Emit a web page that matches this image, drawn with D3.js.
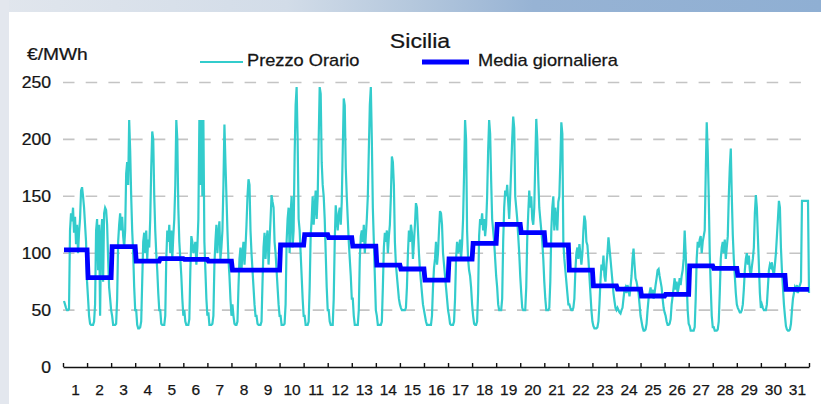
<!DOCTYPE html>
<html><head><meta charset="utf-8">
<script src="https://cdn.jsdelivr.net/npm/d3@7"></script>
<style>body{margin:0;background:#fff;} svg{display:block;}</style>
</head><body>
<svg id="chart" width="821" height="404"></svg>
<script>
// ---- data ----
const dayLabels = d3.range(1, 32).map(String);
const yTicks = [0, 50, 100, 150, 200, 250];
const seriesNames = ["Prezzo Orario", "Media giornaliera"];
const mediaGiornaliera = [103, 78.5, 105.7, 93.1, 95.2, 94.6, 93.1, 85.2, 85.2, 107.2, 116.3, 113.6, 106.3, 89.6, 86.1,
  76.4, 94.9, 108.7, 125.4, 118, 107.2, 85.2, 71.2, 68.5, 62.4, 63.9, 88.8, 86.7, 80.6, 80.6, 68.2];
const prezzoOrario = [
  [58,55,52,50,50,51,120,135,128,140,118,132,108,125,100,118,130,155,158,150,140,125,110,75],
  [60,45,38,37,37,37,40,55,120,130,85,125,45,115,130,75,135,140,138,125,95,70,60,50],
  [45,37,37,37,38,60,110,125,135,120,132,115,105,120,170,180,160,217,190,150,120,100,70,50],
  [50,37,34,34,35,40,75,110,118,100,120,95,112,105,130,175,207,200,150,120,100,85,65,50],
  [50,38,37,37,37,45,95,120,110,125,100,120,95,115,130,160,217,200,140,110,95,80,60,45],
  [50,40,37,37,37,42,85,115,110,100,105,110,90,105,130,217,160,217,150,217,110,85,60,45],
  [48,37,37,37,38,45,90,110,125,100,118,128,95,105,120,160,213,180,150,120,95,80,60,45],
  [55,45,38,37,37,40,70,95,105,85,100,110,90,105,125,150,165,160,120,100,85,70,55,45],
  [45,38,37,37,37,40,75,105,118,95,112,120,90,110,130,151,145,140,110,100,85,70,55,45],
  [45,37,37,37,38,55,110,130,140,100,135,150,105,120,185,230,246,200,130,120,100,80,60,45],
  [45,37,37,37,40,70,115,130,150,125,140,155,130,150,200,246,240,180,160,150,130,100,70,50],
  [50,40,37,37,37,60,110,142,130,120,135,140,125,145,190,236,230,175,150,130,110,95,80,60],
  [60,45,37,37,37,37,50,95,115,120,110,125,100,115,130,150,190,230,246,200,140,110,80,50],
  [45,37,37,37,37,40,70,105,118,110,120,100,115,125,150,185,180,160,110,90,80,70,60,55],
  [52,50,50,50,50,52,70,100,120,110,125,118,95,110,125,144,140,120,100,85,75,65,55,50],
  [45,40,37,37,37,37,37,45,70,87,95,110,90,100,120,137,135,125,100,90,80,70,60,50],
  [45,38,37,37,37,40,60,95,110,100,105,112,95,108,130,170,217,200,120,95,85,80,70,55],
  [45,38,37,37,40,65,115,130,125,135,120,130,115,125,150,190,217,205,164,130,120,110,95,80],
  [70,55,50,50,50,60,110,140,155,150,160,145,130,150,175,200,220,210,150,140,130,115,100,80],
  [65,52,50,50,50,70,113,135,155,140,150,130,125,140,180,218,200,165,140,130,120,110,95,75],
  [60,50,50,50,52,75,120,140,150,120,140,130,120,145,150,180,215,205,110,95,85,75,65,55],
  [55,52,50,50,52,60,85,100,105,95,108,100,90,100,120,133,128,110,107,95,80,65,50,40],
  [36,34,34,34,35,40,55,75,90,85,98,80,75,90,100,114,105,95,85,75,65,58,52,50],
  [52,50,48,47,50,52,60,68,70,65,72,68,62,70,80,95,104,90,78,75,70,65,55,45],
  [40,35,32,32,33,38,50,60,65,70,62,68,60,65,72,78,85,86,80,75,70,60,52,48],
  [45,40,37,37,38,42,55,62,70,78,68,75,65,70,78,72,80,85,95,120,100,75,50,38],
  [36,32,32,32,32,35,60,95,110,105,112,115,100,110,115,120,170,215,190,150,100,70,45,35],
  [35,32,32,32,33,40,65,95,105,110,100,112,95,105,115,150,175,192,150,116,95,80,65,55],
  [52,50,48,48,50,55,68,85,95,100,90,98,85,80,88,95,105,135,151,140,115,90,65,52],
  [55,52,50,50,50,55,70,85,90,88,92,85,80,90,100,115,130,146,140,105,85,70,55,45],
  [36,33,32,32,33,38,50,60,65,70,68,72,65,70,72,75,146,146,146,146,146,146,146,65]
];

// ---- layout ----
const W = 821, H = 404;
const svg = d3.select("#chart");
const defs = svg.append("defs");
const bg = defs.append("linearGradient").attr("id", "bg").attr("x1", 0).attr("x2", 1).attr("y1", 0).attr("y2", 0);
[["0", "#e1e6ed"], ["0.35", "#d2dce8"], ["0.5", "#b5c8dd"], ["0.65", "#97b3d4"], ["1", "#8fafd3"]]
  .forEach(([o, c]) => bg.append("stop").attr("offset", o).attr("stop-color", c));
svg.append("rect").attr("width", W).attr("height", H).attr("fill", "url(#bg)");
svg.append("rect").attr("x", 0).attr("y", 0).attr("width", 9).attr("height", H).attr("fill", "#e3e7ee");
svg.append("rect").attr("x", 9).attr("y", 12).attr("width", W - 9).attr("height", H - 12).attr("fill", "#ffffff");

const FONT = "'Liberation Sans', Arial, sans-serif";
const TXT = "#151515";
const x = d3.scaleLinear().domain([0, 744]).range([63, 809]);
const y = d3.scaleLinear().domain([0, 250]).range([367, 82.5]);

function styleText(sel, size) {
  sel.attr("font-family", FONT).attr("font-size", size).attr("fill", TXT)
    .attr("stroke", TXT).attr("stroke-width", 0.25);
}
// stretched text, anchored at (px,py)
function addText(px, py, str, size, sx, anchor) {
  const t = svg.append("text").attr("transform", `translate(${px},${py}) scale(${sx},1)`)
    .attr("text-anchor", anchor || "start").text(str);
  styleText(t, size);
  return t;
}

// gridlines
svg.append("g").selectAll("line").data(yTicks.filter(v => v > 0)).join("line")
  .attr("x1", 63).attr("x2", 811)
  .attr("y1", d => y(d)).attr("y2", d => y(d))
  .attr("stroke", "#c4c4c4").attr("stroke-width", 1.6).attr("stroke-dasharray", "11.5,11.2");

// y axis labels
const yAxis = svg.append("g").attr("transform", "translate(63,0)")
  .call(d3.axisLeft(y).tickValues(yTicks).tickSize(0).tickPadding(0));
yAxis.select(".domain").remove();
yAxis.selectAll("text").attr("x", null).attr("transform", "translate(-12,0) scale(1.1,1)");
styleText(yAxis.selectAll("text"), 16);

// hourly series
const hourly = [];
prezzoOrario.forEach((day, d) => day.forEach((v, h) => hourly.push({ t: d * 24 + h + 1, v })));
svg.append("path").datum(hourly)
  .attr("fill", "none").attr("stroke", "#33cccc").attr("stroke-width", 2.2).attr("stroke-linejoin", "miter")
  .attr("d", d3.line().x(p => x(p.t)).y(p => y(p.v)));

// daily average
const daily = [];
mediaGiornaliera.forEach((v, d) => { daily.push({ t: d * 24 + 1, v }); daily.push({ t: d * 24 + 24, v }); });
svg.append("path").datum(daily)
  .attr("fill", "none").attr("stroke", "#0000ff").attr("stroke-width", 4.8)
  .attr("d", d3.line().x(p => x(p.t)).y(p => y(p.v)));

// x axis
const xAxis = svg.append("g").attr("transform", "translate(0,367)")
  .call(d3.axisBottom(x).tickValues(d3.range(0, 745, 24)).tickSizeInner(-4).tickSizeOuter(0).tickFormat(""));
xAxis.select(".domain").attr("stroke", "#111").attr("stroke-width", 1.6);
xAxis.selectAll(".tick line").attr("stroke", "#111").attr("stroke-width", 1.4);

const xLab = svg.append("g").attr("transform", "translate(0,367)")
  .call(d3.axisBottom(x).tickValues(d3.range(12, 744, 24)).tickSize(0).tickPadding(17)
    .tickFormat((d, i) => dayLabels[i]));
xLab.select(".domain").remove();
styleText(xLab.selectAll("text"), 15.5);

// titles
addText(420, 48, "Sicilia", 21, 1.1, "middle");
addText(27, 60, "€/MWh", 16, 1.2);

// legend
const legend = [
  { name: seriesNames[0], x1: 200, x2: 243, tx: 247, color: "#33cccc", w: 2.2 },
  { name: seriesNames[1], x1: 422, x2: 469, tx: 478, color: "#0000ff", w: 4.8 }
];
legend.forEach(l => {
  svg.append("line").attr("x1", l.x1).attr("x2", l.x2).attr("y1", 62).attr("y2", 62)
    .attr("stroke", l.color).attr("stroke-width", l.w);
  addText(l.tx, 66, l.name, 16, 1.14);
});
</script>
</body></html>
